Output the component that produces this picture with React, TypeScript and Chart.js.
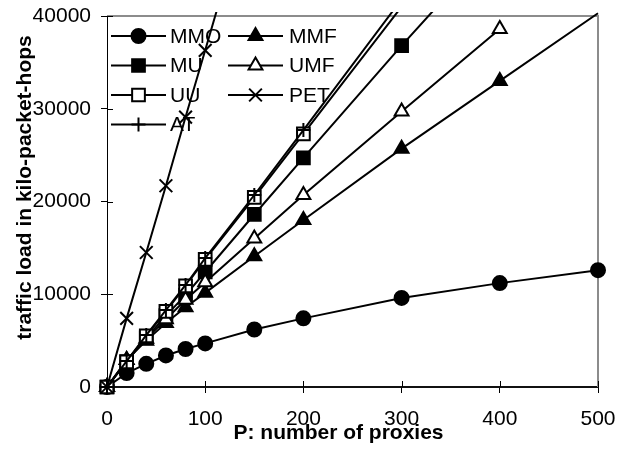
import React, { useEffect, useRef } from 'react';
import { Chart, registerables } from 'chart.js';
import { drawPoint } from 'chart.js/helpers';

Chart.register(...registerables);

// ---- data ----
const proxies = [0, 20, 40, 60, 80, 100, 150, 200, 300, 400, 500];
const mmo = [0, 1500, 2500, 3400, 4100, 4700, 6200, 7400, 9600, 11200, 12600];
const mmf = [0, 2900, 5000, 6900, 8600, 10150, 14100, 18000, 25700, 33000, 40300];
const mu = [0, 2750, 5300, 7700, 9900, 12400, 18600, 24700, 36800, 48500, null];
const umf = [0, 2900, 5200, 7300, 9400, 11300, 16000, 20700, 29700, 38600, null];
const uu = [0, 2720, 5500, 8150, 10900, 13750, 20450, 27300, 41000, null, null];
const pet = [0, 7400, 14500, 21700, 29100, 36300, 54500, null, null, null, null];
const at = [0, 2800, 5600, 8300, 11000, 13900, 20700, 27700, 41800, null, null];
const seriesNames = ['MMO', 'MMF', 'MU', 'UMF', 'UU', 'PET', 'AT'];
const seriesValues = [mmo, mmf, mu, umf, uu, pet, at];
const xTickValues = [0, 100, 200, 300, 400, 500];
const yTickValues = [0, 10000, 20000, 30000, 40000];
const xTitle = 'P: number of proxies';
const yTitle = 'traffic load in kilo-packet-hops';

// ---- styles ----
const FONT = "'Liberation Sans', Arial, sans-serif";
const markerStyles = [
  { pointStyle: 'circle', radius: 7, fill: '#000' },
  { pointStyle: 'triangle', radius: 8, fill: '#000' },
  { pointStyle: 'rect', radius: 9, fill: '#000' },
  { pointStyle: 'triangle', radius: 8, fill: '#fff' },
  { pointStyle: 'rect', radius: 9, fill: '#fff' },
  { pointStyle: 'crossRot', radius: 9, fill: '#fff' },
  { pointStyle: 'cross', radius: 7, fill: '#fff' },
];
const drawOrder = [6, 5, 4, 3, 2, 1, 0];

const frameAndLegend = {
  id: 'frameAndLegend',
  beforeDatasetsDraw(chart: any) {
    const { ctx, chartArea } = chart;
    const { left, right, top, bottom } = chartArea;
    ctx.save();
    ctx.strokeStyle = '#8c8c8c';
    ctx.lineWidth = 2;
    ctx.beginPath();
    ctx.moveTo(left, top);
    ctx.lineTo(right, top);
    ctx.lineTo(right, bottom);
    ctx.stroke();
    ctx.strokeStyle = '#000';
    ctx.lineWidth = 1;
    const xs = chart.scales.x;
    const ys = chart.scales.y;
    ctx.beginPath();
    xs.ticks.forEach((t: any) => {
      const px = Math.round(xs.getPixelForValue(t.value)) + 0.5;
      ctx.moveTo(px, bottom);
      ctx.lineTo(px, bottom - 6);
    });
    ys.ticks.forEach((t: any) => {
      const py = Math.round(ys.getPixelForValue(t.value)) + 0.5;
      ctx.moveTo(left, py);
      ctx.lineTo(left + 6, py);
    });
    ctx.stroke();
    // axis titles
    ctx.fillStyle = '#000';
    ctx.font = `bold 21px ${FONT}`;
    ctx.textAlign = 'center';
    ctx.textBaseline = 'middle';
    ctx.fillText(xTitle, (left + right) / 2 - 14, 433);
    ctx.translate(25, (top + bottom) / 2 - 14);
    ctx.rotate(-Math.PI / 2);
    ctx.fillText(yTitle, 0, 0);
    ctx.restore();
  },
  afterDatasetsDraw(chart: any) {
    const { ctx, chartArea } = chart;
    const { left, top } = chartArea;
    ctx.save();
    ctx.font = `21px ${FONT}`;
    ctx.textBaseline = 'middle';
    ctx.textAlign = 'left';
    chart.data.datasets.forEach((ds: any, i: number) => {
      const col = i % 2;
      const row = Math.floor(i / 2);
      const x0 = left + 4 + col * 117;
      const y = top + 20 + row * 29.5;
      ctx.strokeStyle = '#000';
      ctx.lineWidth = 2;
      ctx.beginPath();
      ctx.moveTo(x0, y);
      ctx.lineTo(x0 + 55, y);
      ctx.stroke();
      ctx.fillStyle = ds.pointBackgroundColor;
      ctx.strokeStyle = ds.pointBorderColor;
      ctx.lineWidth = ds.pointBorderWidth;
      drawPoint(ctx, { pointStyle: ds.pointStyle, rotation: 0, radius: ds.legendRadius, borderWidth: ds.pointBorderWidth }, x0 + 27.5, y);
      ctx.fillStyle = '#000';
      ctx.fillText(ds.label, x0 + 59 + col * 2, y + 1);
    });
    ctx.restore();
  },
};

export default function App() {
  const ref = useRef<HTMLCanvasElement>(null);
  useEffect(() => {
    document.body.style.margin = '0';
    const datasets = seriesNames.map((name, i) => {
      const m = markerStyles[i];
      return {
        label: name,
        data: proxies.map((p, j) => ({ x: p, y: seriesValues[i][j] })),
        borderColor: '#000',
        borderWidth: 2,
        backgroundColor: m.fill,
        pointStyle: m.pointStyle,
        legendRadius: m.radius,
        pointRadius: (c: any) => (c.parsed && c.parsed.y > yTickValues[yTickValues.length - 1] ? 0 : m.radius),
        pointBackgroundColor: m.fill,
        pointBorderColor: '#000',
        pointBorderWidth: 2,
        tension: 0,
        spanGaps: false,
        order: drawOrder[i],
        clip: { left: 12, right: 12, top: 4, bottom: 12 },
      };
    });
    const chart = new Chart(ref.current as HTMLCanvasElement, {
      type: 'line',
      data: { datasets } as any,
      options: {
        animation: false,
        responsive: false,
        events: [],
        layout: { padding: { left: 0, top: 16, right: 20, bottom: 0 } },
        plugins: { legend: { display: false }, tooltip: { enabled: false } },
        scales: {
          x: {
            type: 'linear',
            min: xTickValues[0],
            max: xTickValues[xTickValues.length - 1],
            afterBuildTicks: (s: any) => { s.ticks = xTickValues.map((v) => ({ value: v })); },
            afterFit: (s: any) => { s.height = 64; s.paddingLeft = 0; s.paddingRight = 0; },
            ticks: { color: '#000', font: { family: FONT, size: 21 }, padding: 14, maxRotation: 0, callback: (v: any) => String(v) },
            grid: { drawOnChartArea: false, drawTicks: true, tickLength: 6, tickColor: '#000', tickWidth: 1 },
            border: { color: '#111', width: 2 },
            title: { display: false, text: xTitle },
          },
          y: {
            type: 'linear',
            min: yTickValues[0],
            max: yTickValues[yTickValues.length - 1],
            afterBuildTicks: (s: any) => { s.ticks = yTickValues.map((v) => ({ value: v })); },
            afterFit: (s: any) => { s.width = 107; s.paddingTop = 0; s.paddingBottom = 0; },
            ticks: { color: '#000', font: { family: FONT, size: 21 }, padding: 10, callback: (v: any) => String(v) },
            grid: { drawOnChartArea: false, drawTicks: true, tickLength: 6, tickColor: '#000', tickWidth: 1 },
            border: { color: '#000', width: 1 },
            title: { display: false, text: yTitle },
          },
        },
      },
      plugins: [frameAndLegend],
    } as any);
    return () => chart.destroy();
  }, []);
  return (
    <div style={{ position: 'fixed', left: 0, top: 0, width: 618, height: 451 }}>
      <canvas ref={ref} width={618} height={451} />
    </div>
  );
}
